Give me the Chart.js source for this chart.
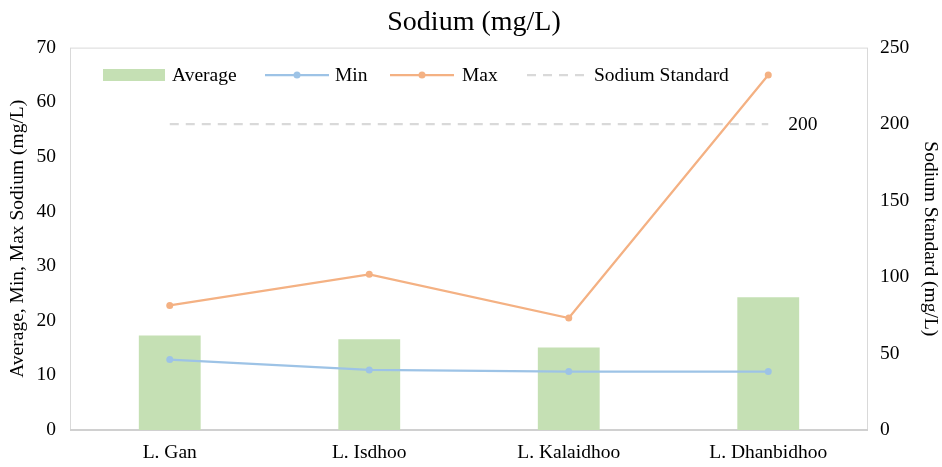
<!DOCTYPE html>
<html><head><meta charset="utf-8">
<script src="https://cdn.jsdelivr.net/npm/chart.js@4"></script>
<style>html,body{margin:0;padding:0;background:#fff}#wrap{width:942px;height:467px}</style>
</head><body><div id="wrap"><canvas id="c"></canvas></div>
<script>
const categories = ['L. Gan', 'L. Isdhoo', 'L. Kalaidhoo', 'L. Dhanbidhoo'];
const averageValues = [17.3, 16.6, 15.1, 24.3];
const minValues = [12.9, 11.0, 10.7, 10.7];
const maxValues = [22.8, 28.5, 20.5, 65.0];
const standardValues = [200, 200, 200, 200];
const standardLabel = '200';

const FONT = "'Liberation Serif', 'Times New Roman', serif";
const FS = 19.5;
const GREEN = '#c5e0b4', BLUE = '#9dc3e6', ORANGE = '#f4b183', GREY = '#d9d9d9';

const framePlugin = {
  id: 'frame',
  beforeDatasetsDraw(chart) {
    const {ctx, chartArea: a} = chart;
    ctx.save();
    ctx.strokeStyle = GREY; ctx.lineWidth = 1;
    ctx.strokeRect(a.left + 0.5, a.top + 0.5, a.right - a.left - 1, a.bottom - a.top);
    ctx.lineWidth = 2; ctx.strokeStyle = '#d0d0d0';
    ctx.beginPath(); ctx.moveTo(a.left, a.bottom); ctx.lineTo(a.right, a.bottom); ctx.stroke();
    ctx.restore();
  },
  afterDraw(chart) {
    const {ctx} = chart;
    ctx.save();
    const meta = chart.getDatasetMeta(3);
    const last = meta.data[meta.data.length - 1];
    ctx.font = FS + 'px ' + FONT; ctx.fillStyle = '#000';
    ctx.textBaseline = 'middle'; ctx.textAlign = 'left';
    ctx.fillText(standardLabel, last.x + 20, last.y + 1);
    // legend
    const y = 75;
    const items = chart.data.datasets;
    const xs = [103, 265, 390, 527];
    const tx = [172, 335, 462, 594];
    items.forEach((ds, i) => {
      const x = xs[i];
      if (i === 0) {
        ctx.fillStyle = GREEN; ctx.fillRect(x, y - 6, 62, 12);
      } else {
        ctx.strokeStyle = ds.borderColor; ctx.lineWidth = 2.25;
        ctx.setLineDash(ds.borderDash || []);
        ctx.beginPath(); ctx.moveTo(x, y); ctx.lineTo(x + 64, y); ctx.stroke();
        ctx.setLineDash([]);
        if (!ds.borderDash) {
          ctx.fillStyle = ds.borderColor;
          ctx.beginPath(); ctx.arc(x + 32, y, 3.5, 0, Math.PI * 2); ctx.fill();
        }
      }
      ctx.fillStyle = '#000'; ctx.textAlign = 'left';
      ctx.fillText(ds.label, tx[i], y + 1);
    });
    ctx.restore();
  }
};

new Chart(document.getElementById('c'), {
  data: {
    labels: categories,
    datasets: [
      {type: 'bar', label: 'Average', data: averageValues, backgroundColor: GREEN, yAxisID: 'y',
       categoryPercentage: 1, barPercentage: 0.31, order: 4},
      {type: 'line', label: 'Min', data: minValues, borderColor: BLUE, backgroundColor: BLUE,
       borderWidth: 2.25, pointRadius: 3.5, pointBackgroundColor: BLUE, pointBorderWidth: 0, yAxisID: 'y', order: 2},
      {type: 'line', label: 'Max', data: maxValues, borderColor: ORANGE, backgroundColor: ORANGE,
       borderWidth: 2.25, pointRadius: 3.5, pointBackgroundColor: ORANGE, pointBorderWidth: 0, yAxisID: 'y', order: 1},
      {type: 'line', label: 'Sodium Standard', data: standardValues, borderColor: GREY,
       borderWidth: 2.25, borderDash: [9, 7], pointRadius: 0, yAxisID: 'y1', order: 3}
    ]
  },
  options: {
    responsive: true, maintainAspectRatio: false, animation: false,
    layout: {padding: {top: 0, bottom: 0, left: 6, right: 0}},
    plugins: {
      legend: {display: false},
      tooltip: {enabled: false},
      title: {display: true, text: 'Sodium (mg/L)', color: '#000',
              font: {family: FONT, size: 28, weight: 'normal'}, padding: {top: 6, bottom: 8}}
    },
    scales: {
      x: {
        grid: {display: false, drawTicks: false}, border: {display: false},
        ticks: {color: '#000', font: {family: FONT, size: FS}, padding: 11},
        afterFit(s) { s.height = 37; }
      },
      y: {
        position: 'left', min: 0, max: 70,
        ticks: {stepSize: 10, color: '#000', font: {family: FONT, size: FS}, padding: 14},
        grid: {display: false, drawTicks: false}, border: {display: false},
        title: {display: true, text: 'Average, Min, Max Sodium (mg/L)', color: '#000',
                font: {family: FONT, size: FS}, padding: 0},
        afterFit(s) { s.width = 64; }
      },
      y1: {
        position: 'right', min: 0, max: 250,
        ticks: {stepSize: 50, color: '#000', font: {family: FONT, size: FS}, padding: 12},
        grid: {display: false, drawTicks: false}, border: {display: false},
        title: {display: true, text: 'Sodium Standard (mg/L)', color: '#000',
                font: {family: FONT, size: FS}, padding: 0},
        afterFit(s) { s.width = 74; }
      }
    }
  },
  plugins: [framePlugin]
});
</script></body></html>
